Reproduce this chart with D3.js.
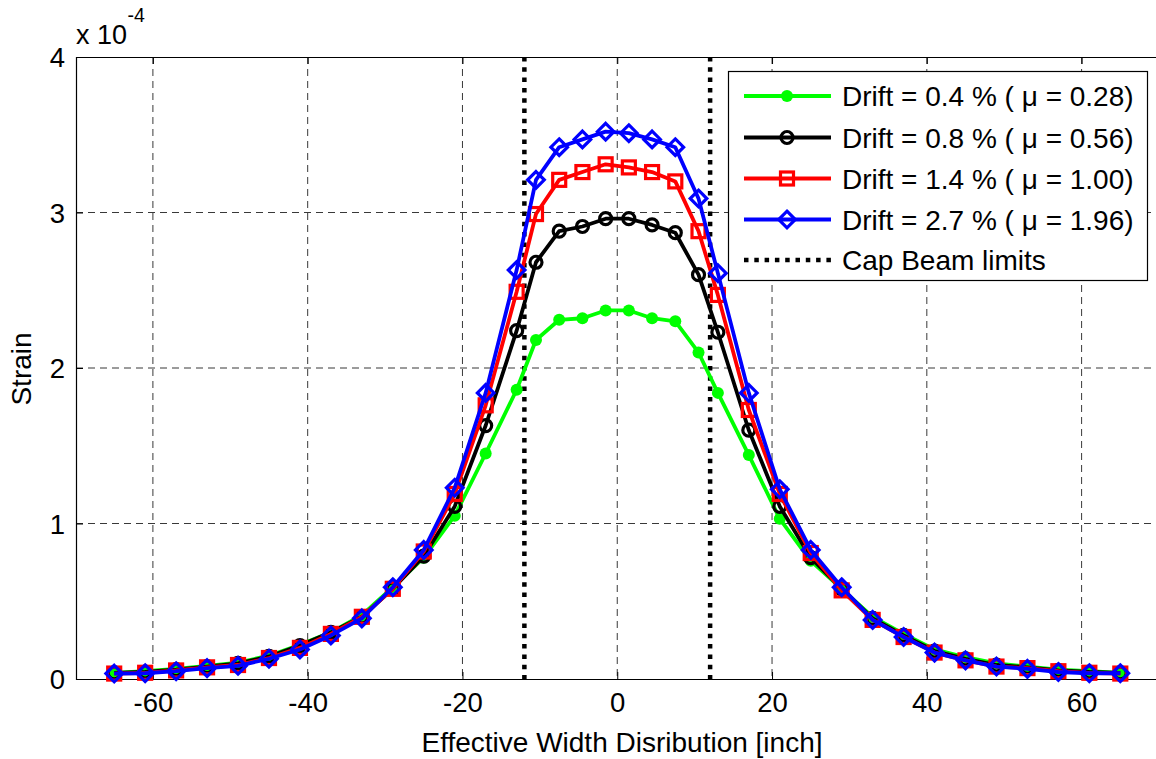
<!DOCTYPE html>
<html>
<head>
<meta charset="utf-8">
<script src="https://cdn.jsdelivr.net/npm/d3@7"></script>
<style>
  html, body { margin: 0; padding: 0; background: #fff; }
  svg { display: block; font-family: "Liberation Sans", Arial, sans-serif; }
</style>
</head>
<body>
<svg id="chart" width="1156" height="759"></svg>
<script>
// ---- Data (strain values in units of 1e-4) ----
const positions = [-65,-61,-57,-53,-49,-45,-41,-37,-33,-29,-25,-21,-17,-13,-10.5,-7.5,-4.5,-1.5,1.5,4.5,7.5,10.5,13,17,21,25,29,33,37,41,45,49,53,57,61,65];

const drift04 = [0.04,0.05,0.065,0.085,0.105,0.15,0.22,0.30,0.41,0.59,0.78,1.05,1.45,1.86,2.18,2.31,2.32,2.37,2.37,2.32,2.30,2.10,1.84,1.44,1.03,0.76,0.58,0.40,0.29,0.19,0.14,0.10,0.08,0.06,0.05,0.04];
const drift08 = [0.04,0.045,0.06,0.08,0.10,0.145,0.215,0.30,0.40,0.58,0.79,1.11,1.63,2.24,2.68,2.88,2.91,2.96,2.96,2.92,2.87,2.60,2.23,1.60,1.11,0.78,0.58,0.39,0.28,0.18,0.13,0.09,0.075,0.055,0.045,0.04];
const drift14 = [0.035,0.04,0.055,0.075,0.09,0.135,0.20,0.29,0.40,0.58,0.82,1.19,1.76,2.49,2.99,3.21,3.26,3.31,3.29,3.26,3.20,2.88,2.47,1.73,1.19,0.81,0.57,0.38,0.27,0.17,0.12,0.08,0.07,0.05,0.04,0.035];
const drift27 = [0.035,0.037,0.05,0.07,0.085,0.13,0.19,0.28,0.39,0.59,0.83,1.23,1.84,2.63,3.21,3.42,3.47,3.52,3.51,3.47,3.42,3.09,2.61,1.84,1.22,0.83,0.59,0.38,0.27,0.17,0.12,0.08,0.065,0.045,0.037,0.037];

const seriesNames = ["Drift = 0.4 % ( \u03bc = 0.28)","Drift = 0.8 % ( \u03bc = 0.56)","Drift = 1.4 % ( \u03bc = 1.00)","Drift = 2.7 % ( \u03bc = 1.96)"];
const seriesColors = ["#00ff00","#000000","#ff0000","#0000ff"];
const seriesMarkers = ["dot","circle","square","diamond"];
const capBeamLimits = [-12, 12];
const capBeamLabel = "Cap Beam limits";

const xTicks = [-60,-40,-20,0,20,40,60];
const yTicks = [0,1,2,3,4];
const xLabel = "Effective Width Disribution [inch]";
const yLabel = "Strain";

// ---- Layout ----
const svg = d3.select("#chart");
const L = 76, T = 57, B = 679, R = 1159;
const x = d3.scaleLinear().domain([-70, 70]).range([75.5, R]);
const y = d3.scaleLinear().domain([0, 4]).range([B, T]);
const FS = 27.5;
const FSL = 28;

svg.append("defs").append("clipPath").attr("id","clip")
  .append("rect").attr("x", L).attr("y", T - 12).attr("width", 1156 - L).attr("height", B - T + 24);

// gridlines
const grid = svg.append("g");
grid.selectAll("line.vx").data(xTicks).join("line")
  .attr("x1", d => x(d)).attr("x2", d => x(d)).attr("y1", T).attr("y2", B)
  .attr("stroke", "#222").attr("stroke-width", 0.9).attr("stroke-dasharray", "7,5");
grid.selectAll("line.hy").data(yTicks.filter(d => d > 0 && d < 4)).join("line")
  .attr("x1", L).attr("x2", 1156).attr("y1", d => y(d)).attr("y2", d => y(d))
  .attr("stroke", "#222").attr("stroke-width", 0.9).attr("stroke-dasharray", "7,5");

// axes
const fmt = d => String(d);
const xAxisB = d3.axisBottom(x).tickValues(xTicks).tickSize(-7).tickPadding(13).tickFormat(fmt);
const gxb = svg.append("g").attr("transform", `translate(0,${B})`).call(xAxisB);
const xAxisT = d3.axisTop(x).tickValues(xTicks).tickSize(-7).tickFormat("");
const gxt = svg.append("g").attr("transform", `translate(0,${T})`).call(xAxisT);
const yAxisL = d3.axisLeft(y).tickValues(yTicks).tickSize(-7).tickPadding(11).tickFormat(fmt);
const gyl = svg.append("g").attr("transform", `translate(${L},0)`).call(yAxisL);
[gxb, gxt, gyl].forEach(g => {
  g.select(".domain").attr("stroke", "#000").attr("stroke-width", 1.2);
  g.selectAll(".tick line").attr("stroke", "#000").attr("stroke-width", 1);
  g.selectAll("text").attr("font-size", FS).attr("fill", "#000")
    .attr("font-family", "'Liberation Sans', Arial, sans-serif");
});
gxb.select(".domain").attr("d", `M${L},0.5H1156`);
gxt.select(".domain").attr("d", `M${L},0.5H1156`);
gyl.selectAll(".tick text").attr("dy", "0.36em");
gxb.selectAll(".tick text").attr("dy", "0.72em");

// exponent label
svg.append("text").attr("x", 76).attr("y", 44).attr("font-size", 27).attr("fill", "#000").text("x 10");
svg.append("text").attr("x", 127.5).attr("y", 22).attr("font-size", 19.5).attr("fill", "#000").text("-4");

// axis titles
svg.append("text").attr("x", 622).attr("y", 752).attr("text-anchor", "middle")
  .attr("font-size", FSL).attr("fill", "#000").text(xLabel);
svg.append("text").attr("transform", "translate(31,369) rotate(-90)").attr("text-anchor", "middle")
  .attr("font-size", FSL).attr("fill", "#000").text(yLabel);

// cap beam limits
const plot = svg.append("g").attr("clip-path", "url(#clip)");
plot.selectAll("line.cap").data(capBeamLimits).join("line")
  .attr("x1", d => x(d)).attr("x2", d => x(d)).attr("y1", T).attr("y2", B)
  .attr("stroke", "#000").attr("stroke-width", 4.5).attr("stroke-dasharray", "4.5,5.8");

// series
const allSeries = [drift04, drift08, drift14, drift27];
const line = d3.line().x(d => x(d[0])).y(d => y(d[1]));

function drawMarker(g, type, color, cx, cy) {
  if (type === "dot") {
    g.append("circle").attr("cx", cx).attr("cy", cy).attr("r", 6).attr("fill", color);
  } else if (type === "circle") {
    g.append("circle").attr("cx", cx).attr("cy", cy).attr("r", 6)
      .attr("fill", "none").attr("stroke", color).attr("stroke-width", 3.2);
  } else if (type === "square") {
    g.append("rect").attr("x", cx - 6.5).attr("y", cy - 6.5).attr("width", 13).attr("height", 13)
      .attr("fill", "none").attr("stroke", color).attr("stroke-width", 3.2);
  } else if (type === "diamond") {
    const h = 8.3;
    g.append("path").attr("d", `M${cx},${cy - h}L${cx + h},${cy}L${cx},${cy + h}L${cx - h},${cy}Z`)
      .attr("fill", "none").attr("stroke", color).attr("stroke-width", 3.2);
  }
}

allSeries.forEach((vals, i) => {
  const pts = positions.map((p, j) => [p, vals[j]]);
  const g = plot.append("g");
  g.append("path").datum(pts).attr("d", line)
    .attr("fill", "none").attr("stroke", seriesColors[i]).attr("stroke-width", 3.8)
    .attr("stroke-linejoin", "round");
  pts.forEach(p => drawMarker(g, seriesMarkers[i], seriesColors[i], x(p[0]), y(p[1])));
});

// legend
const lg = svg.append("g");
lg.append("rect").attr("x", 728.5).attr("y", 71.5).attr("width", 419).attr("height", 209)
  .attr("fill", "#fff").attr("stroke", "#000").attr("stroke-width", 1.2);
const rowY = [96, 137.5, 178.5, 219.5, 260];
seriesNames.forEach((name, i) => {
  const gy = rowY[i];
  lg.append("line").attr("x1", 744).attr("x2", 831).attr("y1", gy).attr("y2", gy)
    .attr("stroke", seriesColors[i]).attr("stroke-width", 3.8);
  drawMarker(lg, seriesMarkers[i], seriesColors[i], 787, gy);
  lg.append("text").attr("x", 842).attr("y", gy).attr("dy", "0.36em")
    .attr("font-size", FSL).attr("fill", "#000").text(name);
});
lg.append("line").attr("x1", 744).attr("x2", 831).attr("y1", rowY[4]).attr("y2", rowY[4])
  .attr("stroke", "#000").attr("stroke-width", 4.5).attr("stroke-dasharray", "4.5,5.8");
lg.append("text").attr("x", 842).attr("y", rowY[4]).attr("dy", "0.36em")
  .attr("font-size", FSL).attr("fill", "#000").text(capBeamLabel);
</script>
</body>
</html>
